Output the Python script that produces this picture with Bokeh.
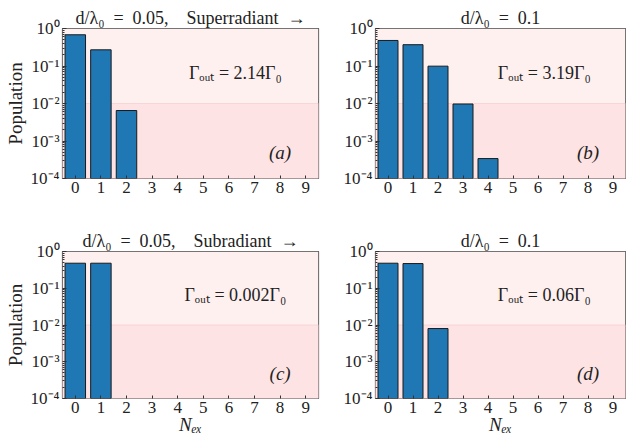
from bokeh.plotting import figure
from bokeh.layouts import column, row
from bokeh.models import (BoxAnnotation, Label, FixedTicker, CustomJSTickFormatter,
                          ColumnDataSource, Range1d)
from bokeh.embed import file_html
from bokeh.resources import INLINE

# ---- data ----
n_ex = [0, 1, 2, 3, 4, 5, 6, 7, 8, 9]
pop_a = [0.68, 0.27, 0.0065, 0, 0, 0, 0, 0, 0, 0]
pop_b = [0.48, 0.37, 0.099, 0.0097, 0.00034, 0, 0, 0, 0, 0]
pop_c = [0.48, 0.48, 0, 0, 0, 0, 0, 0, 0, 0]
pop_d = [0.48, 0.47, 0.0080, 0, 0, 0, 0, 0, 0, 0]
titles = ["d/λ₀\u2002=\u20020.05,\u2003Superradiant\u2002→", "d/λ₀\u2002=\u20020.1",
          "d/λ₀\u2002=\u20020.05,\u2003Subradiant\u2002→", "d/λ₀\u2002=\u20020.1"]
gamma_texts = ["Γₒᵤₜ = 2.14Γ₀", "Γₒᵤₜ = 3.19Γ₀", "Γₒᵤₜ = 0.002Γ₀", "Γₒᵤₜ = 0.06Γ₀"]
panel_tags = ["(a)", "(b)", "(c)", "(d)"]
y_major = [1e-4, 1e-3, 1e-2, 1e-1, 1e0]
y_minor = [m * 10.0 ** e for e in range(-4, 0) for m in range(2, 10)]

FONT = "Liberation Serif"
BAR = "#1f77b4"
SPINE = "#4a4a4a"

ytick_fmt = CustomJSTickFormatter(code="""
const sup = {"-":"\u207b","0":"\u2070","1":"\u00b9","2":"\u00b2","3":"\u00b3","4":"\u2074"};
const e = Math.round(Math.log10(tick));
return "10" + String(e).split("").map(c => sup[c]).join("");
""")


def make_panel(pop, title, gtext, tag, width, height, bl, br, bt, bb, ylabel, xlabel):
    p = figure(width=width, height=height, y_axis_type="log",
               x_range=Range1d(-0.5, 9.5), y_range=Range1d(1e-4, 1e0),
               output_backend="svg", toolbar_location=None,
               min_border_left=bl, min_border_right=br,
               min_border_top=bt, min_border_bottom=bb,
               background_fill_color="white", border_fill_color="white")
    p.title.text = title
    p.title.align = "center"
    p.title.text_font = FONT
    p.title.text_font_size = "18px"
    p.title.text_font_style = "normal"
    p.title.text_color = "#222222"
    p.title.standoff = 2

    p.add_layout(BoxAnnotation(bottom=1e-2, top=1e0, fill_color="#fff0f0",
                               fill_alpha=1.0, line_color=None, level="underlay"))
    p.add_layout(BoxAnnotation(bottom=1e-4, top=1e-2, fill_color="#fde3e3",
                               fill_alpha=1.0, line_color="#f5d0d0", line_alpha=0.8,
                               level="underlay"))

    xs = [x for x, v in zip(n_ex, pop) if v > 0]
    vs = [v for v in pop if v > 0]
    src = ColumnDataSource(dict(x=xs, top=vs))
    p.vbar(x="x", top="top", bottom=1e-4, width=0.8, source=src,
           fill_color=BAR, line_color="#1a1a1a", line_width=1)

    p.add_layout(Label(x=6.25, y=0.067, text=gtext, text_font=FONT,
                       text_font_size="18px", text_align="center",
                       text_baseline="middle", text_color="#222222"))
    p.add_layout(Label(x=8.0, y=4.8e-4, text=tag, text_font=FONT,
                       text_font_size="19px", text_font_style="italic",
                       text_align="center", text_baseline="middle",
                       text_color="#222222"))

    p.xgrid.visible = False
    p.ygrid.visible = False
    p.outline_line_color = SPINE
    p.outline_line_width = 1.2
    p.outline_line_alpha = 1.0

    xa = p.xaxis[0]
    xa.ticker = FixedTicker(ticks=n_ex)
    xa.axis_line_color = None
    xa.major_tick_in = 3
    xa.major_tick_out = 0
    xa.major_tick_line_color = "#333333"
    xa.minor_tick_line_color = None
    xa.major_label_text_font = FONT
    xa.major_label_text_font_size = "17px"
    xa.major_label_text_color = "#222222"
    xa.major_label_standoff = 3
    if xlabel:
        xa.axis_label = "Nₑₓ"
        xa.axis_label_text_font = FONT
        xa.axis_label_text_font_style = "italic"
        xa.axis_label_text_font_size = "19px"
        xa.axis_label_text_color = "#222222"
        xa.axis_label_standoff = -2

    ya = p.yaxis[0]
    ya.ticker = FixedTicker(ticks=y_major, minor_ticks=y_minor)
    ya.formatter = ytick_fmt
    ya.axis_line_color = None
    ya.major_tick_in = 4
    ya.major_tick_out = 0
    ya.minor_tick_in = 2
    ya.minor_tick_out = 0
    ya.major_tick_line_color = "#333333"
    ya.minor_tick_line_color = "#333333"
    ya.major_label_text_font = FONT
    ya.major_label_text_font_size = "17px"
    ya.major_label_text_color = "#222222"
    ya.major_label_standoff = 3
    if ylabel:
        ya.axis_label = "Population"
        ya.axis_label_text_font = FONT
        ya.axis_label_text_font_style = "normal"
        ya.axis_label_text_font_size = "19px"
        ya.axis_label_text_color = "#222222"
        ya.axis_label_standoff = 2
    return p


pa = make_panel(pop_a, titles[0], gamma_texts[0], panel_tags[0], 320, 215, 62, 2, 28, 37, True, False)
pb = make_panel(pop_b, titles[1], gamma_texts[1], panel_tags[1], 306, 215, 55, 1, 28, 37, False, False)
pc = make_panel(pop_c, titles[2], gamma_texts[2], panel_tags[2], 320, 222, 62, 2, 36, 35, True, True)
pd = make_panel(pop_d, titles[3], gamma_texts[3], panel_tags[3], 306, 222, 55, 1, 36, 35, False, True)

layout = column(row(pa, pb, spacing=0), row(pc, pd, spacing=0), spacing=0)

with open("out.html", "w") as f:
    f.write(file_html(layout, INLINE))
